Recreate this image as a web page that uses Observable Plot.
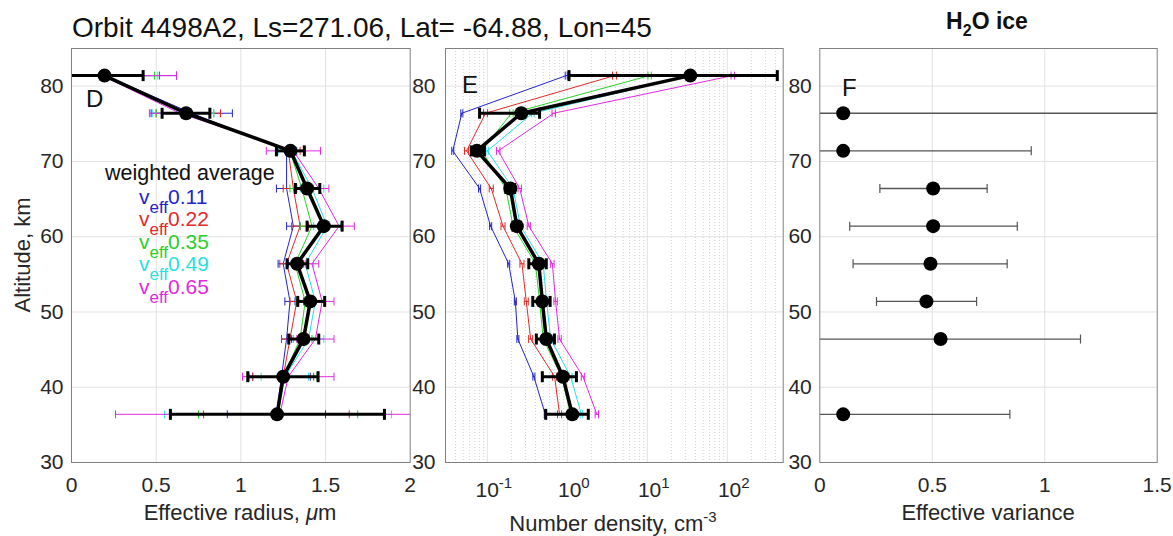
<!DOCTYPE html>
<html><head><meta charset="utf-8">
<script src="https://cdn.jsdelivr.net/npm/d3@7"></script>
<script src="https://cdn.jsdelivr.net/npm/@observablehq/plot@0.6"></script>
<style>
body{margin:0;background:#fff;}
#wrap{position:relative;width:1173px;height:536px;overflow:hidden;background:#fff;font-family:"Liberation Sans",Arial,sans-serif;}
#wrap svg{position:absolute;top:0;}
</style></head><body><div id="wrap"></div><script>
// ---------- shared ----------
const altitude = [81.4, 76.4, 71.4, 66.4, 61.4, 56.4, 51.4, 46.4, 41.4, 36.4];
const veffNames = ["0.11", "0.22", "0.35", "0.49", "0.65"];
const seriesColors = ["#2424c8", "#e02a2a", "#2ad02a", "#2ae0e0", "#e02ae0"];
const altTicks = [30, 40, 50, 60, 70, 80];

// ---------- panel D : effective radius ----------
const reffAvg   = [0.195, 0.677, 1.293, 1.391, 1.490, 1.332, 1.410, 1.370, 1.250, 1.214];
const reffAvgLo = [-0.05, 0.535, 1.210, 1.322, 1.391, 1.273, 1.336, 1.283, 1.041, 0.584];
const reffAvgHi = [0.423, 0.817, 1.375, 1.466, 1.598, 1.395, 1.495, 1.460, 1.456, 1.848];
const reff011 = [0.20, 0.71, 1.27, 1.27, 1.31, 1.25, 1.29, 1.27, 1.24, 1.21];
const reff022 = [0.20, 0.69, 1.28, 1.31, 1.35, 1.27, 1.33, 1.29, 1.25, 1.21];
const reff035 = [0.19, 0.67, 1.29, 1.36, 1.42, 1.32, 1.38, 1.35, 1.25, 1.22];
const reff049 = [0.19, 0.66, 1.30, 1.42, 1.51, 1.38, 1.44, 1.40, 1.26, 1.22];
const reff065 = [0.18, 0.64, 1.31, 1.46, 1.58, 1.42, 1.48, 1.44, 1.28, 1.23];
const reffErr011 = [0.42, 0.24, 0.06, 0.06, 0.04, 0.03, 0.03, 0.03, 0.17, 0.29];
const reffErr022 = [0.32, 0.19, 0.07, 0.06, 0.05, 0.04, 0.04, 0.05, 0.18, 0.43];
const reffErr035 = [0.30, 0.17, 0.08, 0.07, 0.07, 0.05, 0.05, 0.07, 0.20, 0.47];
const reffErr049 = [0.32, 0.18, 0.08, 0.07, 0.08, 0.05, 0.06, 0.09, 0.14, 0.67];
const reffErr065 = [0.44, 0.18, 0.16, 0.06, 0.09, 0.04, 0.07, 0.11, 0.27, 0.97];
const reffTicks = [0, 0.5, 1, 1.5, 2];

// ---------- panel E : number density ----------
const ndAvg   = [34.5, 0.266, 0.074, 0.194, 0.234, 0.44, 0.487, 0.546, 0.88, 1.155];
const ndAvgLo = [1.05, 0.080, 0.063, 0.170, 0.210, 0.33, 0.37, 0.41, 0.487, 0.537];
const ndAvgHi = [422, 0.45, 0.092, 0.220, 0.260, 0.546, 0.61, 0.69, 1.30, 1.83];
const nd011 = [0.97, 0.048, 0.037, 0.080, 0.110, 0.185, 0.224, 0.241, 0.382, 0.531];
const nd022 = [3.9, 0.095, 0.055, 0.112, 0.157, 0.271, 0.307, 0.348, 0.694, 0.80];
const nd035 = [10.7, 0.20, 0.085, 0.170, 0.210, 0.40, 0.45, 0.50, 0.85, 1.10];
const nd049 = [34, 0.37, 0.100, 0.210, 0.260, 0.50, 0.55, 0.62, 1.10, 1.50];
const nd065 = [117, 0.676, 0.137, 0.254, 0.331, 0.65, 0.714, 0.80, 1.57, 2.34];
const ndErrFactor = [1.03, 1.06, 1.05, 1.04, 1.05];
const ndMajor = [0.1, 1, 10, 100];
const ndExp = ["-1", "0", "1", "2"];
const ndMinor = [0.03,0.04,0.05,0.06,0.07,0.08,0.09,0.2,0.3,0.4,0.5,0.6,0.7,0.8,0.9,
  2,3,4,5,6,7,8,9,20,30,40,50,60,70,80,90,200,300,400];

// ---------- panel F : effective variance ----------
const altF = [76.4, 71.4, 66.4, 61.4, 56.4, 51.4, 46.4, 36.4];
const veff   = [0.104, 0.104, 0.504, 0.504, 0.492, 0.474, 0.537, 0.104];
const veffLo = [-0.3, -0.3, 0.267, 0.133, 0.148, 0.252, -0.1, -0.1];
const veffHi = [1.8, 0.94, 0.744, 0.878, 0.833, 0.697, 1.159, 0.845];
const veffTicks = [0, 0.5, 1, 1.5];

// ---------- helpers ----------
const FONT = '"Liberation Sans", Arial, Helvetica, sans-serif';
const TXT = "#262626";
const GRID = "#e2e2e2";
const FS = 21;
const wrap = document.getElementById("wrap");
const capSymbol = {draw(ctx, size) { const h = Math.sqrt(size / Math.PI); ctx.moveTo(0, -h); ctx.lineTo(0, h); }};

function errMarks(rows, lo, hi, opts) {
  const {color, width, capR, capW} = opts;
  return [
    Plot.link(rows, {x1: d => Math.max(d.lo, lo), x2: d => Math.min(d.hi, hi), y1: "alt", y2: "alt", stroke: color, strokeWidth: width}),
    Plot.dot(rows.filter(d => d.lo >= lo), {x: "lo", y: "alt", symbol: capSymbol, r: capR, stroke: color, strokeWidth: capW, fill: "none"}),
    Plot.dot(rows.filter(d => d.hi <= hi), {x: "hi", y: "alt", symbol: capSymbol, r: capR, stroke: color, strokeWidth: capW, fill: "none"})
  ];
}

function makePanel(left, width, mL, mR, xOpts, yPad, marks) {
  const svg = Plot.plot({
    width, height: 536, marginTop: 48, marginBottom: 74, marginLeft: mL, marginRight: mR,
    style: {fontFamily: FONT, fontSize: FS + "px", color: TXT, background: "transparent", overflow: "visible"},
    x: {label: null, tickSize: 0, tickPadding: 15, ...xOpts},
    y: {domain: [30, 85], ticks: altTicks, tickSize: 0, tickPadding: yPad, label: null},
    marks
  });
  svg.style.left = left + "px";
  wrap.append(svg);
  return svg;
}

// ---------- D ----------
const reffSeries = [reff011, reff022, reff035, reff049, reff065];
const reffErrs = [reffErr011, reffErr022, reffErr035, reffErr049, reffErr065];
const marksD = [
  Plot.ruleX(reffTicks.slice(1, -1), {stroke: GRID}),
  Plot.ruleY(altTicks.slice(1), {stroke: GRID})
];
reffSeries.forEach((vals, k) => {
  const rows = vals.map((v, i) => ({alt: altitude[i], x: v, lo: v - reffErrs[k][i], hi: v + reffErrs[k][i]}));
  marksD.push(Plot.line(rows, {x: "x", y: "alt", stroke: seriesColors[k], strokeWidth: 1}));
  marksD.push(...errMarks(rows, 0, 2, {color: seriesColors[k], width: 1, capR: 4, capW: 1}));
});
const avgD = altitude.map((a, i) => ({alt: a, x: reffAvg[i], lo: reffAvgLo[i], hi: reffAvgHi[i]}));
marksD.push(Plot.line(avgD, {x: "x", y: "alt", stroke: "black", strokeWidth: 3.5}));
marksD.push(...errMarks(avgD, 0, 2, {color: "black", width: 3, capR: 5.5, capW: 3}));
marksD.push(Plot.dot(avgD, {x: "x", y: "alt", r: 7, fill: "black"}));
marksD.push(Plot.frame({stroke: "#808080"}));
const svgD = makePanel(0, 420, 71, 10.3, {domain: [0, 2], ticks: reffTicks, tickFormat: d => String(d)}, 8, marksD);

// ---------- E ----------
const ndSeries = [nd011, nd022, nd035, nd049, nd065];
const marksE = [
  Plot.ruleX(ndMinor, {stroke: "#d4d4d4", strokeDasharray: "1,2"}),
  Plot.ruleX(ndMajor, {stroke: GRID}),
  Plot.ruleY(altTicks.slice(1), {stroke: GRID})
];
ndSeries.forEach((vals, k) => {
  const rows = vals.map((v, i) => ({alt: altitude[i], x: v, lo: v / ndErrFactor[k], hi: v * ndErrFactor[k]}));
  marksE.push(Plot.line(rows, {x: "x", y: "alt", stroke: seriesColors[k], strokeWidth: 1}));
  marksE.push(...errMarks(rows, 0.03, 500, {color: seriesColors[k], width: 1, capR: 4, capW: 1}));
});
const avgE = altitude.map((a, i) => ({alt: a, x: ndAvg[i], lo: ndAvgLo[i], hi: ndAvgHi[i]}));
marksE.push(Plot.line(avgE, {x: "x", y: "alt", stroke: "black", strokeWidth: 3.5}));
marksE.push(...errMarks(avgE, 0.03, 500, {color: "black", width: 3, capR: 5.5, capW: 3}));
marksE.push(Plot.dot(avgE, {x: "x", y: "alt", r: 7, fill: "black"}));
marksE.push(Plot.frame({stroke: "#808080"}));
const svgE = makePanel(420, 370, 25, 7.3, {type: "log", domain: [0.03, 500], axis: null}, 10, marksE);

// ---------- F ----------
const rowsF = altF.map((a, i) => ({alt: a, x: veff[i], lo: veffLo[i], hi: veffHi[i]}));
const marksF = [
  Plot.ruleX(veffTicks.slice(1, -1), {stroke: GRID}),
  Plot.ruleY(altTicks.slice(1), {stroke: GRID}),
  ...errMarks(rowsF, 0, 1.5, {color: "#555", width: 1.3, capR: 4.5, capW: 1.2}),
  Plot.dot(rowsF, {x: "x", y: "alt", r: 7, fill: "black"}),
  Plot.frame({stroke: "#808080"})
];
const svgF = makePanel(790, 383, 29.3, 16.3, {domain: [0, 1.5], ticks: veffTicks, tickFormat: d => String(d)}, 8, marksF);

// ---------- annotations ----------
function addText(svg, x, y, str, o = {}) {
  const t = d3.select(svg).append("text").attr("x", x).attr("y", y)
    .attr("font-family", FONT).attr("font-size", o.size || FS).attr("fill", o.fill || TXT)
    .attr("text-anchor", o.anchor || "start");
  if (o.weight) t.attr("font-weight", o.weight);
  if (o.rotate) t.attr("transform", `rotate(${o.rotate},${x},${y})`);
  if (str != null) t.text(str);
  return t;
}

// D panel texts
addText(svgD, 86, 107, "D", {size: 24, fill: "#111"});
addText(svgD, 30, 255, "Altitude, km", {size: 22, anchor: "middle", rotate: -90});
{
  const t = addText(svgD, 240, 520, null, {anchor: "middle", size: 22});
  t.append("tspan").text("Effective radius, ");
  t.append("tspan").attr("font-style", "italic").text("\u03bc");
  t.append("tspan").text("m");
}
addText(svgD, 105, 179.5, "weighted average", {fill: "#111", size: 21.5});
veffNames.forEach((name, k) => {
  const y = 203.5 + k * 22.5;
  const t = addText(svgD, 139, y, null, {fill: seriesColors[k], size: 21});
  t.append("tspan").text("v");
  t.append("tspan").attr("font-size", 17).attr("dy", 9).text("eff");
  t.append("tspan").attr("dy", -9).text(name);
});

// E panel texts
addText(svgE, 462 - 420, 93, "E", {size: 24, fill: "#111"});
{
  const sx = svgE.scale("x");
  ndMajor.forEach((v, i) => {
    const t = addText(svgE, sx.apply(v) + 7, 497, null, {anchor: "middle"});
    t.append("tspan").text("10");
    t.append("tspan").attr("font-size", 15).attr("dy", -9).text(ndExp[i]);
  });
  const t = addText(svgE, 613 - 420, 531, null, {anchor: "middle", size: 22});
  t.append("tspan").text("Number density, cm");
  t.append("tspan").attr("font-size", 15).attr("dy", -9).text("-3");
}

// F panel texts
addText(svgF, 842 - 790, 96, "F", {size: 24, fill: "#111"});
addText(svgF, 988 - 790, 520, "Effective variance", {anchor: "middle", size: 22});

// overlay: titles
const ov = d3.select(wrap).append("svg").attr("width", 1173).attr("height", 536)
  .style("left", "0px").style("pointer-events", "none");
ov.append("text").attr("x", 72).attr("y", 37).attr("font-family", FONT).attr("font-size", 28)
  .attr("fill", "#111").text("Orbit 4498A2, Ls=271.06, Lat= -64.88, Lon=45");
{
  const t = ov.append("text").attr("x", 987).attr("y", 29).attr("font-family", FONT).attr("font-size", 23)
    .attr("font-weight", "bold").attr("fill", "#111").attr("text-anchor", "middle");
  t.append("tspan").text("H");
  t.append("tspan").attr("font-size", 16).attr("dy", 7).text("2");
  t.append("tspan").attr("dy", -7).text("O ice");
}
</script></body></html>
